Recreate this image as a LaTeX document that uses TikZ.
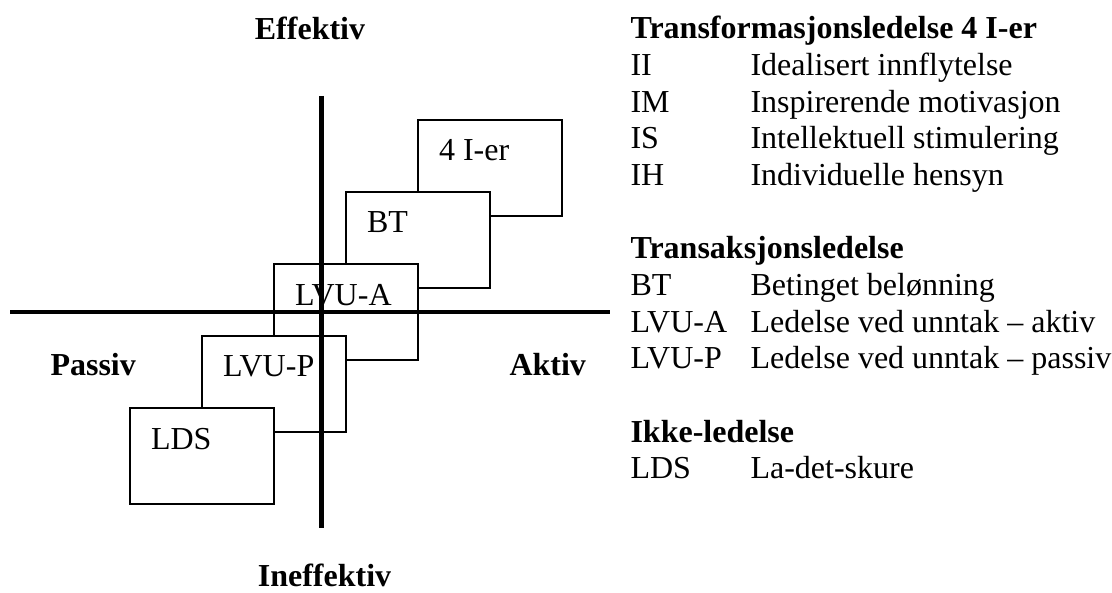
\documentclass[tikz,border=0pt]{standalone}
\usepackage{fontspec}
\setmainfont{Liberation Serif}
\usepackage{tikz}
\usetikzlibrary{positioning}

\begin{document}
\begin{tikzpicture}[
  x=0.375pt, y=-0.375pt,
  every node/.style={font=\fontsize{12}{13.75}\selectfont},
  boks/.style={draw, line width=0.45pt, fill=white, minimum width=54pt,
               minimum height=36pt, inner sep=0pt,
               label={[inner sep=0pt, anchor=north west, xshift=7.9pt,
                       yshift=-7.5pt]north west:#1}},
  akse/.style={line width=1.8pt},
  aksetekst/.style={inner sep=0pt, font=\fontsize{12}{13.75}\selectfont\bfseries},
  liste/.style={inner sep=0pt, anchor=base west}
]
\useasboundingbox (0,0) rectangle (1112,593);

% boksene, fra ovre til nedre
\node[boks=4 I-er]  (fire) at (490,168) {};
\node[boks=BT]      (bt)   at (418,240) {};
\node[boks=LVU-A]   (lvua) at (346,312) {};
\node[boks=LVU-P]   (lvup) at (274,384) {};
\node[boks=LDS]     (lds)  at (202,456) {};

% aksene
\coordinate (topp)    at (321.7,96);
\coordinate (bunn)    at (321.7,528);
\coordinate (venstre) at (10,312);
\coordinate (hoyre)   at (610,312);
\draw[akse] (topp) -- (bunn);
\draw[akse] (venstre) -- (hoyre);

\node[aksetekst, anchor=base]      (effektiv)   at (310,40)    {Effektiv};
\node[aksetekst, anchor=base]      (ineffektiv) at (324.5,587) {Ineffektiv};
\node[aksetekst, anchor=base west] (passiv)     at (50,376)    {Passiv};
\node[aksetekst, anchor=base west] (aktiv)      at (509,376)   {Aktiv};

% forklaringen til hoyre
\node[liste] (forklaring) at (630,38.7) {%
  \begin{tabular}[t]{@{}p{45pt}@{}l@{}}
  \multicolumn{2}{@{}l@{}}{\bfseries Transformasjonsledelse 4 I-er}\\
  II    & Idealisert innflytelse\\
  IM    & Inspirerende motivasjon\\
  IS    & Intellektuell stimulering\\
  IH    & Individuelle hensyn\\
  \\
  \multicolumn{2}{@{}l@{}}{\bfseries Transaksjonsledelse}\\
  BT    & Betinget belønning\\
  LVU-A & Ledelse ved unntak – aktiv\\
  LVU-P & Ledelse ved unntak – passiv\\
  \\
  \multicolumn{2}{@{}l@{}}{\bfseries Ikke-ledelse}\\
  LDS   & La-det-skure
  \end{tabular}};

\end{tikzpicture}
\end{document}
